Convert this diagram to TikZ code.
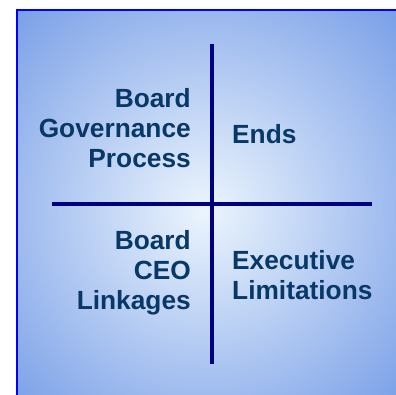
\documentclass[tikz,border=0pt]{standalone}
\usepackage{fontspec}
\setmainfont{Liberation Sans}
\definecolor{txt}{RGB}{8,56,104}
\definecolor{linec}{RGB}{0,0,128}
\definecolor{inner}{RGB}{236,245,253}
\definecolor{outer}{RGB}{112,152,230}
\definecolor{bord}{RGB}{0,0,255}
\tikzset{
  lbl/.style={font=\bfseries\fontsize{26.3}{30}\selectfont, text=txt, inner sep=0pt},
  divider/.style={draw=linec, line width=4pt}
}
\begin{document}
\begin{tikzpicture}[x=1pt,y=-1pt]
\useasboundingbox (0,0) rectangle (396,394);
\begin{scope}
\clip (17,10) rectangle (400,400);
\shade[inner color=inner, outer color=outer] (205,210) circle (300);
\end{scope}
\draw[bord, line width=2pt] (17,400) -- (17,10) -- (400,10);
\coordinate (vt) at (211.7,44);
\coordinate (vb) at (211.7,364);
\coordinate (hl) at (52,204);
\coordinate (hr) at (372,204);
\draw[divider] (vt) -- (vb);
\draw[divider] (hl) -- (hr);
\node[lbl, anchor=base east, align=right] (bgp) at (191,167) {Board\\Governance\\Process};
\node[lbl, anchor=base west, align=left] (ends) at (232,143) {Ends};
\node[lbl, anchor=base east, align=right] (bcl) at (191,309) {Board\\CEO\\Linkages};
\node[lbl, anchor=base west, align=left] (el) at (232,299) {Executive\\Limitations};
\end{tikzpicture}
\end{document}
